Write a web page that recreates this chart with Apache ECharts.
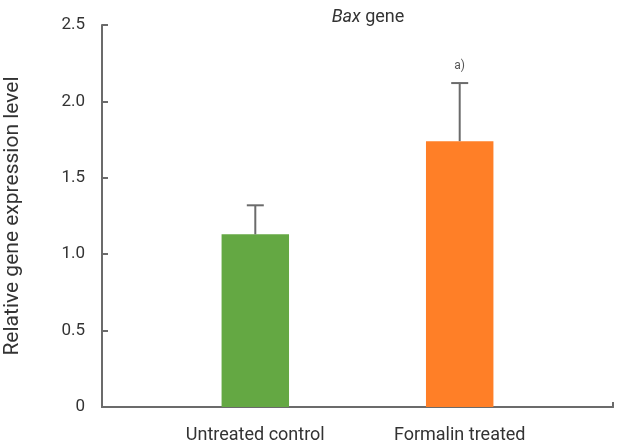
<!DOCTYPE html>
<html>
<head>
<meta charset="utf-8">
<script src="https://cdn.jsdelivr.net/npm/echarts@6/dist/echarts.min.js"></script>
<style>
  html, body { margin: 0; padding: 0; background: #fff; }
  #chart { width: 621px; height: 446px; }
</style>
</head>
<body>
<div id="chart"></div>
<script>
// values
const groups = ['Untreated control', 'Formalin treated'];
const means = [1.13, 1.74];
const errUp = [0.19, 0.38];   // upper SD
const signif = ['', 'a)'];
const barColors = ['#64a843', '#ff7f27'];

// spacer slots so the two bars sit where they do in the original
const cats = ['', groups[0], '', groups[1], ''];
const barData = ['-', { value: means[0], itemStyle: { color: barColors[0] } }, '-', { value: means[1], itemStyle: { color: barColors[1] } }, '-'];
const errData = [];
groups.forEach((g, i) => { errData.push([i * 2 + 1, means[i], means[i] + errUp[i], i]); });

const font = 'Roboto, "Liberation Sans", sans-serif';
const axisCol = '#6b6b6b';

const chart = echarts.init(document.getElementById('chart'));
chart.setOption({
  animation: false,
  title: {
    text: '{it|Bax} gene',
    left: 363, top: 3, textAlign: 'center',
    textStyle: {
      fontFamily: font, fontSize: 18, fontWeight: 'normal', color: '#333',
      rich: { it: { fontFamily: font, fontSize: 18, fontStyle: 'italic', color: '#333' } }
    }
  },
  grid: { left: 102, right: 8, top: 25, bottom: 39, containLabel: false, outerBoundsMode: 'none' },
  xAxis: [
    {
      type: 'category', data: cats,
      axisLine: { lineStyle: { color: axisCol, width: 2 } },
      axisTick: { show: false },
      axisLabel: { interval: 0, color: '#333', fontFamily: font, fontSize: 18, margin: 19 }
    },
    {
      type: 'value', min: 0, max: 1, interval: 1, position: 'bottom',
      axisLine: { show: true, lineStyle: { color: axisCol, width: 2 } },
      axisTick: { show: true, inside: true, length: 5, lineStyle: { color: axisCol, width: 2 } },
      axisLabel: { show: false },
      splitLine: { show: false }
    }
  ],
  yAxis: {
    type: 'value', min: 0, max: 2.5, interval: 0.5,
    name: 'Relative gene expression level',
    nameLocation: 'middle', nameGap: 79,
    nameTextStyle: { fontFamily: font, fontSize: 21, color: '#333' },
    axisLine: { show: true, lineStyle: { color: axisCol, width: 2 } },
    axisTick: { show: true, inside: true, length: 6, lineStyle: { color: axisCol, width: 2 } },
    axisLabel: {
      color: '#333', fontFamily: font, fontSize: 17, margin: 17,
      formatter: v => (v === 0 ? '0' : v.toFixed(1))
    },
    splitLine: { show: false }
  },
  series: [
    {
      type: 'bar', data: barData, barWidth: '66%', xAxisIndex: 0
    },
    {
      type: 'custom', xAxisIndex: 0, data: errData, z: 3,
      renderItem: function (params, api) {
        const lo = api.coord([api.value(0), api.value(1)]);
        const hi = api.coord([api.value(0), api.value(2)]);
        const half = 8.5;
        const style = { stroke: axisCol, lineWidth: 2 };
        const kids = [
          { type: 'line', shape: { x1: hi[0], y1: hi[1], x2: lo[0], y2: lo[1] }, style: style },
          { type: 'line', shape: { x1: hi[0] - half, y1: hi[1], x2: hi[0] + half, y2: hi[1] }, style: style }
        ];
        const s = signif[api.value(3)];
        if (s) {
          kids.push({
            type: 'text',
            style: { text: s, x: hi[0], y: hi[1] - 11, align: 'center', verticalAlign: 'bottom',
                     font: '12px ' + font, fill: '#555' }
          });
        }
        return { type: 'group', children: kids };
      }
    }
  ]
});
</script>
</body>
</html>
